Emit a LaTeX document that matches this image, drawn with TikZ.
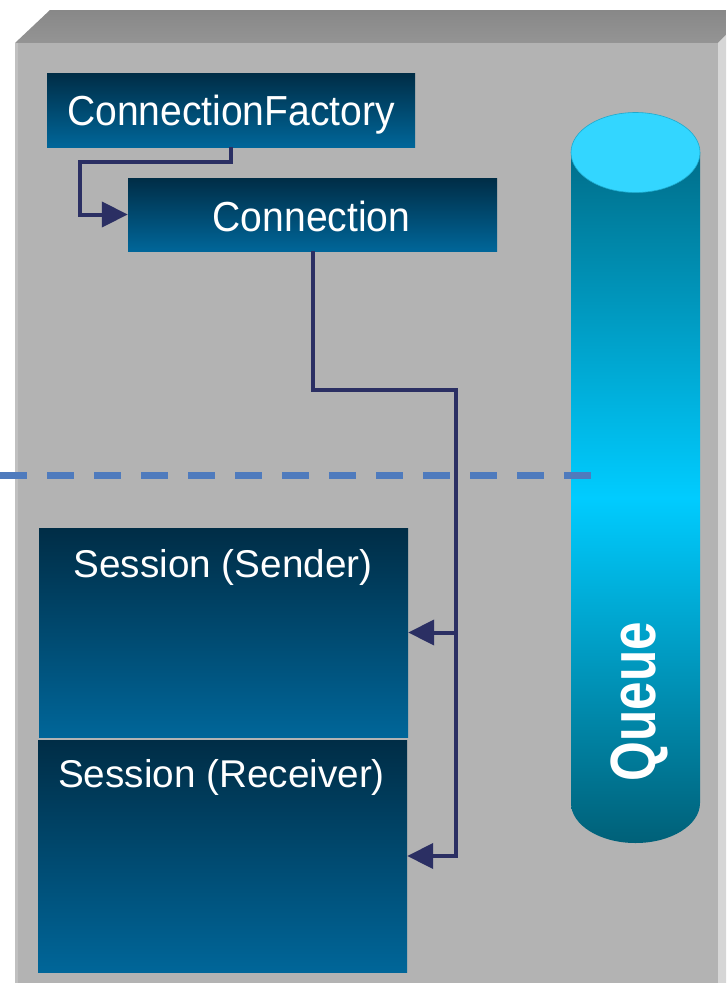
\documentclass[tikz,border=0pt]{standalone}
\usepackage{fontspec}
\setmainfont{Liberation Sans}
\newfontfamily\titlefont[FakeStretch=0.93]{Liberation Sans}
\newfontfamily\queuefont[FakeStretch=0.80]{Liberation Sans}
\usetikzlibrary{arrows.meta}

\definecolor{panelfront}{RGB}{179,179,179}
\definecolor{paneltopA}{RGB}{136,136,136}
\definecolor{paneltopB}{RGB}{148,148,148}
\definecolor{panelside}{RGB}{214,214,214}
\definecolor{paneledge}{RGB}{192,192,192}
\definecolor{boxtop}{RGB}{0,45,70}
\definecolor{boxbot}{RGB}{0,102,153}
\definecolor{wirecol}{RGB}{43,47,99}
\definecolor{dashblue}{RGB}{79,123,189}
\definecolor{cyltop}{RGB}{51,214,255}
\definecolor{cylrim}{RGB}{30,170,205}
\definecolor{cylA}{RGB}{0,110,138}
\definecolor{cylB}{RGB}{0,204,255}
\definecolor{cylC}{RGB}{0,96,120}

\tikzset{
  objbox/.style={rectangle, draw=none, inner sep=0pt, top color=boxtop, bottom color=boxbot},
  boxlabel/.style={text=white, inner sep=0pt, anchor=base},
  wire/.style={draw=wirecol, line width=4pt, line join=miter},
  wiretip/.style={wire, -{Triangle[length=26pt,width=25pt]}},
  separator/.style={draw=dashblue, line width=7pt, dash pattern=on 27pt off 20pt},
}

\begin{document}
\begin{tikzpicture}[x=1pt, y=-1pt]
  \useasboundingbox (0,0) rectangle (726,983);
  \fill[white] (0,0) rectangle (726,983);

  % grey panel: top bevel, right side and front face
  \shade[top color=paneltopA, bottom color=paneltopB]
    (15,43) -- (50,10) -- (726,10) -- (726,35) -- (718,43) -- cycle;
  \fill[panelside] (718,43) -- (726,35) -- (726,983) -- (718,983) -- cycle;
  \fill[panelfront] (15,43) rectangle (718,983);
  \fill[paneledge] (15,43) rectangle (18,983);

  % queue cylinder
  \shade[top color=cylA, bottom color=cylC, middle color=cylB]
    (571,152.5) -- (571,803)
    arc[start angle=180, end angle=360, x radius=64.5pt, y radius=40pt]
    -- (700,152.5) -- cycle;
  \fill[cyltop, draw=cylrim, line width=0.6pt]
    (635.5,152.5) ellipse[x radius=64.5pt, y radius=40pt];
  \node[text=white, inner sep=0pt, anchor=base, rotate=90] (queuelbl) at (655,701.7)
    {\queuefont\bfseries\fontsize{64}{64}\selectfont Queue};

  % JMS objects
  \node[objbox, minimum width=368pt, minimum height=74pt] (cf) at (231,110) {};
  \node[objbox, minimum width=369pt, minimum height=73pt] (conn) at (312.5,214.5) {};
  \node[objbox, minimum width=369pt, minimum height=209pt] (sender) at (223.5,632.5) {};
  \node[objbox, minimum width=369pt, minimum height=232pt] (recv) at (222.5,856) {};

  \node[boxlabel] (cflbl) at (231,125)
    {\titlefont\fontsize{42}{42}\selectfont ConnectionFactory};
  \node[boxlabel] (connlbl) at (311.5,231)
    {\titlefont\fontsize{42}{42}\selectfont Connection};
  \node[boxlabel] (senderlbl) at (223,577)
    {\fontsize{38.7}{38.7}\selectfont Session (Sender)};
  \node[boxlabel] (recvlbl) at (221.5,787)
    {\fontsize{38.7}{38.7}\selectfont Session (Receiver)};

  % connectors
  \coordinate (cfdrop) at (231,162);
  \coordinate (cfturn) at (79.5,214.5);
  \draw[wiretip] (cf.south) -- (cfdrop) -| (cfturn) -- (conn.west);

  \coordinate (bus) at (455.5,390);
  \draw[wiretip] (conn.south) |- (bus) |- (recv.east);
  \draw[wiretip] (sender.east -| bus) -- (sender.east);

  % boundary line
  \coordinate (sepL) at (0,475);
  \coordinate (sepR) at (590.5,475);
  \draw[separator] (sepL) -- (sepR);
\end{tikzpicture}
\end{document}
